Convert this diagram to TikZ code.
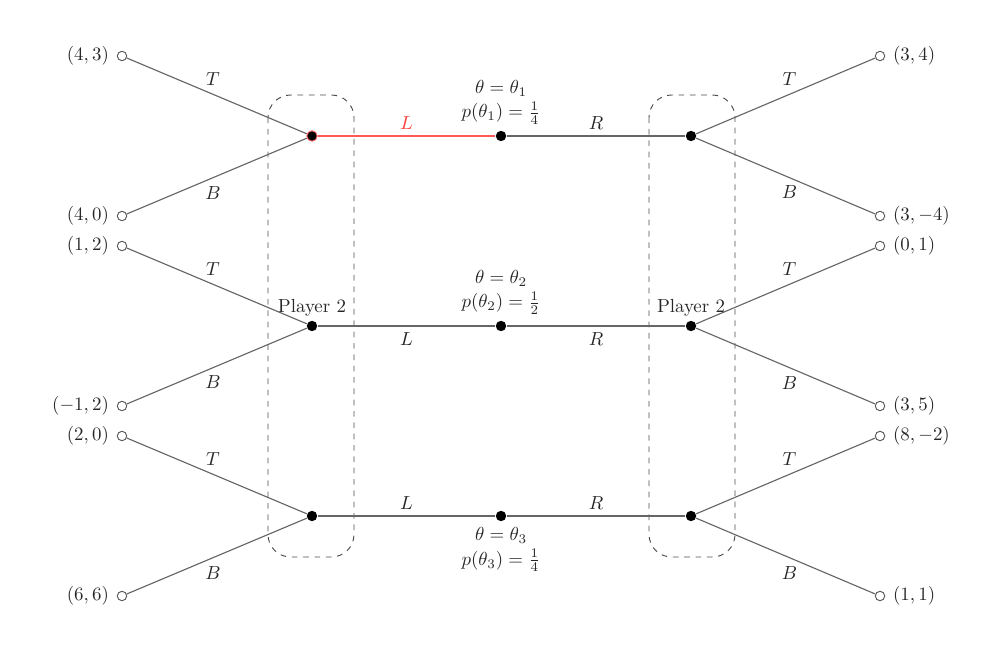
\documentclass[tikz,border=0pt]{standalone}
\usepackage{amsmath}
\usetikzlibrary{positioning}
\begin{document}
\begin{tikzpicture}[x=0.0186cm,y=-0.0186cm,
  edge/.style={draw=black!60, line width=0.6pt},
  redge/.style={draw=red!65, line width=0.6pt},
  dec/.style={circle, fill=black, inner sep=0pt, minimum size=5.5pt},
  rdec/.style={circle, fill=black, draw=red!60, line width=0.5pt, inner sep=0pt, minimum size=5.5pt},
  term/.style={circle, draw=black!65, fill=white, line width=0.5pt, inner sep=0pt, minimum size=5pt},
  infoset/.style={draw=black!70, dashed, line width=0.5pt, rounded corners=0.42cm},
  lbl/.style={text=black!85, inner sep=2pt}
]
\useasboundingbox (0,0) rectangle (1000,655);
% information sets
\draw[infoset] (268,95) rectangle (354,557);
\draw[infoset] (649,95) rectangle (735,557);
% nature nodes
\node[dec] (c1) at (501,136) {};
\node[dec] (c2) at (501,326) {};
\node[dec] (c3) at (501,516) {};
% player 2 nodes
\node[rdec] (l1) at (312,136) {};
\node[dec] (l2) at (312,326) {};
\node[dec] (l3) at (312,516) {};
\node[dec] (r1) at (691,136) {};
\node[dec] (r2) at (691,326) {};
\node[dec] (r3) at (691,516) {};
% terminals
\node[term, label={[lbl,xshift=-2pt]left:$(4,3)$}] (lt1) at (122,56) {};
\node[term, label={[lbl,xshift=-2pt]left:$(4,0)$}] (lb1) at (122,216) {};
\node[term, label={[lbl,xshift=-2pt]left:$(1,2)$}] (lt2) at (122,246) {};
\node[term, label={[lbl,xshift=-2pt]left:$(-1,2)$}] (lb2) at (122,406) {};
\node[term, label={[lbl,xshift=-2pt]left:$(2,0)$}] (lt3) at (122,436) {};
\node[term, label={[lbl,xshift=-2pt]left:$(6,6)$}] (lb3) at (122,596) {};
\node[term, label={[lbl,xshift=2pt]right:$(3,4)$}] (rt1) at (880,56) {};
\node[term, label={[lbl,xshift=2pt]right:$(3,-4)$}] (rb1) at (880,216) {};
\node[term, label={[lbl,xshift=2pt]right:$(0,1)$}] (rt2) at (880,246) {};
\node[term, label={[lbl,xshift=2pt]right:$(3,5)$}] (rb2) at (880,406) {};
\node[term, label={[lbl,xshift=2pt]right:$(8,-2)$}] (rt3) at (880,436) {};
\node[term, label={[lbl,xshift=2pt]right:$(1,1)$}] (rb3) at (880,596) {};
% nature labels
\node[lbl, align=center, above=1pt of c1] (n1) {$\theta=\theta_1$\\[1pt]$p(\theta_1)=\frac{1}{4}$};
\node[lbl, align=center, above=1pt of c2] (n2) {$\theta=\theta_2$\\[1pt]$p(\theta_2)=\frac{1}{2}$};
\node[lbl, align=center, below=1pt of c3] (n3) {$\theta=\theta_3$\\[1pt]$p(\theta_3)=\frac{1}{4}$};
\node[lbl, above=0pt of l2] (p2l) {Player 2};
\node[lbl, above=0pt of r2] (p2r) {Player 2};
% edges centre
\draw[redge] (c1) -- node[lbl, above, text=red!75, yshift=1pt] {$L$} (l1);
\draw[edge] (c1) -- node[lbl, above, yshift=1pt] {$R$} (r1);
\draw[edge] (c2) -- node[lbl, below, yshift=-1pt] {$L$} (l2);
\draw[edge] (c2) -- node[lbl, below, yshift=-1pt] {$R$} (r2);
\draw[edge] (c3) -- node[lbl, above, yshift=1pt] {$L$} (l3);
\draw[edge] (c3) -- node[lbl, above, yshift=1pt] {$R$} (r3);
% left edges
\draw[edge] (l1) -- node[lbl, above, xshift=-2pt, yshift=3pt] {$T$} (lt1);
\draw[edge] (l1) -- node[lbl, below, xshift=-2pt, yshift=-3pt] {$B$} (lb1);
\draw[edge] (l2) -- node[lbl, above, xshift=-2pt, yshift=3pt] {$T$} (lt2);
\draw[edge] (l2) -- node[lbl, below, xshift=-2pt, yshift=-3pt] {$B$} (lb2);
\draw[edge] (l3) -- node[lbl, above, xshift=-2pt, yshift=3pt] {$T$} (lt3);
\draw[edge] (l3) -- node[lbl, below, xshift=-2pt, yshift=-3pt] {$B$} (lb3);
% right edges
\draw[edge] (r1) -- node[lbl, above, xshift=2pt, yshift=3pt] {$T$} (rt1);
\draw[edge] (r1) -- node[lbl, below, xshift=2pt, yshift=-3pt] {$B$} (rb1);
\draw[edge] (r2) -- node[lbl, above, xshift=2pt, yshift=3pt] {$T$} (rt2);
\draw[edge] (r2) -- node[lbl, below, xshift=2pt, yshift=-3pt] {$B$} (rb2);
\draw[edge] (r3) -- node[lbl, above, xshift=2pt, yshift=3pt] {$T$} (rt3);
\draw[edge] (r3) -- node[lbl, below, xshift=2pt, yshift=-3pt] {$B$} (rb3);
\end{tikzpicture}
\end{document}
